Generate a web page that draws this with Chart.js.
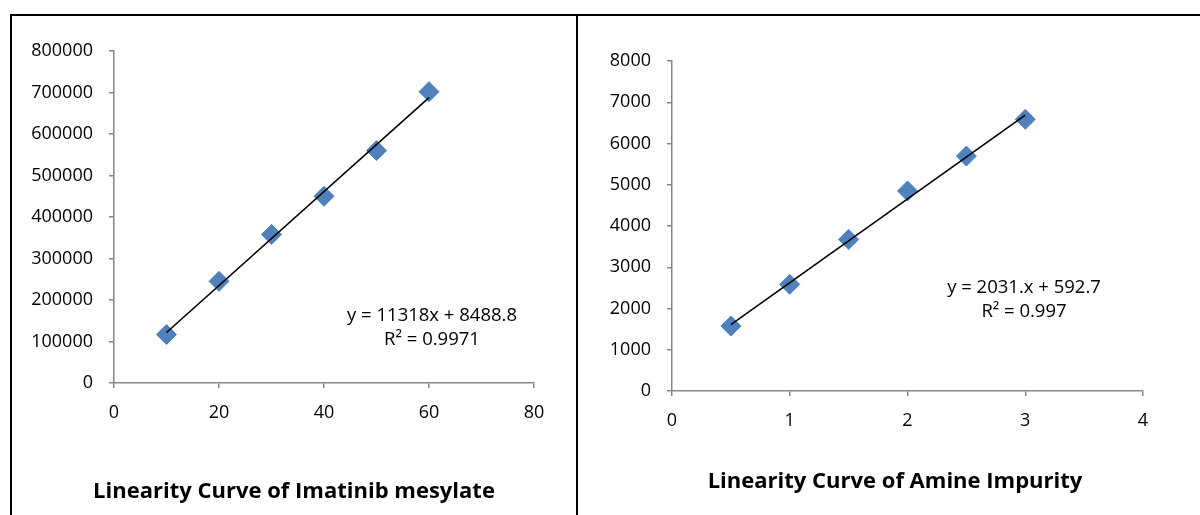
<!DOCTYPE html>
<html>
<head>
<meta charset="utf-8">
<script src="https://cdn.jsdelivr.net/npm/chart.js@4.4.0/dist/chart.umd.min.js"></script>
<style>
  html, body { margin: 0; padding: 0; background: #fff; }
  body { width: 1200px; height: 515px; position: relative; overflow: hidden; }
  .rule { position: absolute; background: #000; }
  .box { position: absolute; }
</style>
</head>
<body>
<div class="rule" style="left:10px; top:14px; width:1190px; height:2px;"></div>
<div class="rule" style="left:10px; top:14px; width:2px; height:501px;"></div>
<div class="rule" style="left:576px; top:14px; width:2px; height:501px;"></div>

<div class="box" style="left:12px; top:17px; width:564px; height:498px;"><canvas id="chartLeft"></canvas></div>
<div class="box" style="left:579px; top:17px; width:621px; height:498px;"><canvas id="chartRight"></canvas></div>

<script>
// Imatinib mesylate
const imatinibConc = [10, 20, 30, 40, 50, 60];
const imatinibArea = [117000, 245000, 358000, 450000, 560000, 702000];
const imatinibTrendX = [10, 60];
const imatinibTrendY = [121669, 687569];
const imatinibEquation = ["y = 11318x + 8488.8", "R\u00B2 = 0.9971"];

// Amine impurity
const amineConc = [0.5, 1, 1.5, 2, 2.5, 3];
const amineArea = [1575, 2585, 3675, 4850, 5695, 6585];
const amineTrendX = [0.5, 3];
const amineTrendY = [1608, 6686];
const amineEquation = ["y = 2031.x + 592.7", "R\u00B2 = 0.997"];

const FONT = "'Open Sans', 'Liberation Sans', sans-serif";
const AXIS_GREY = "#868686";
const MARKER_BLUE = "#4F81BD";

function toPoints(xs, ys) {
    return xs.map((x, i) => ({ x: x, y: ys[i] }));
}

// equation text + caption under the plot
function textPlugin(cfg) {
    return {
        id: "texts",
        afterDraw(chart) {
            const ctx = chart.ctx;
            ctx.save();
            ctx.fillStyle = "#000";
            ctx.textAlign = "center";
            ctx.textBaseline = "middle";
            ctx.font = "18.5px " + FONT;
            cfg.equation.forEach((t, i) => ctx.fillText(t, cfg.eqX, cfg.eqY + i * 24));
            ctx.textBaseline = "alphabetic";
            ctx.font = "bold 22px " + FONT;
            ctx.fillText(cfg.title, cfg.titleX, cfg.titleY);
            ctx.restore();
        }
    };
}

function makeChart(id, cfg) {
    const axisCommon = {
        type: "linear",
        grid: {
            drawOnChartArea: false,
            drawTicks: true,
            tickLength: 5,
            color: AXIS_GREY,
            lineWidth: 1.5
        },
        border: { display: true, color: AXIS_GREY, width: 1.5 }
    };

    return new Chart(document.getElementById(id).getContext("2d"), {
        type: "scatter",
        data: {
            datasets: [{
                type: "line",
                data: toPoints(cfg.trendX, cfg.trendY),
                borderColor: "#000",
                borderWidth: 1.6,
                pointRadius: 0,
                fill: false,
                order: 0
            }, {
                data: toPoints(cfg.xs, cfg.ys),
                pointStyle: "rectRot",
                pointRadius: 10,
                backgroundColor: MARKER_BLUE,
                borderColor: MARKER_BLUE,
                borderWidth: 1,
                order: 1
            }]
        },
        options: {
            responsive: true,
            maintainAspectRatio: false,
            animation: false,
            layout: { padding: cfg.padding },
            plugins: {
                legend: { display: false },
                tooltip: { enabled: false },
                title: { display: false }
            },
            scales: {
                x: Object.assign({}, axisCommon, {
                    min: cfg.xMin, max: cfg.xMax,
                    ticks: {
                        stepSize: cfg.xStep, padding: 14, color: "#000",
                        font: { family: FONT, size: 18 },
                        callback: v => String(v)
                    },
                    afterFit: s => { s.height = cfg.xAxisHeight; }
                }),
                y: Object.assign({}, axisCommon, {
                    min: cfg.yMin, max: cfg.yMax,
                    ticks: {
                        stepSize: cfg.yStep, padding: 16, color: "#000",
                        font: { family: FONT, size: 18 },
                        callback: v => String(v)
                    },
                    afterFit: s => { s.width = cfg.yAxisWidth; }
                })
            }
        },
        plugins: [textPlugin(cfg)]
    });
}

makeChart("chartLeft", {
    title: "Linearity Curve of Imatinib mesylate", titleX: 282, titleY: 481,
    xs: imatinibConc, ys: imatinibArea,
    trendX: imatinibTrendX, trendY: imatinibTrendY,
    equation: imatinibEquation, eqX: 420, eqY: 299,
    xMin: 0, xMax: 80, xStep: 20,
    yMin: 0, yMax: 800000, yStep: 100000,
    padding: { left: 0, top: 34, right: 42, bottom: 0 },
    yAxisWidth: 102, xAxisHeight: 132
});

makeChart("chartRight", {
    title: "Linearity Curve of Amine Impurity", titleX: 316, titleY: 471,
    xs: amineConc, ys: amineArea,
    trendX: amineTrendX, trendY: amineTrendY,
    equation: amineEquation, eqX: 445, eqY: 271,
    xMin: 0, xMax: 4, xStep: 1,
    yMin: 0, yMax: 8000, yStep: 1000,
    padding: { left: 0, top: 44, right: 57, bottom: 0 },
    yAxisWidth: 93, xAxisHeight: 124
});
</script>
</body>
</html>
